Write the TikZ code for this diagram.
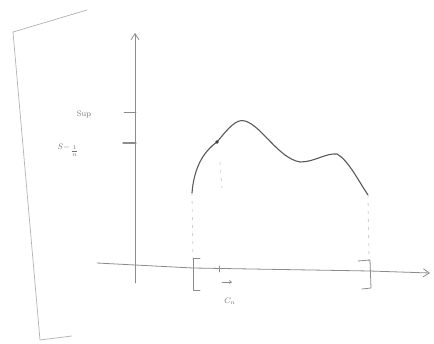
\documentclass[tikz,border=0pt]{standalone}
\usetikzlibrary{arrows.meta}
\begin{document}
\begin{tikzpicture}[x=1pt,y=-1pt,
  pencil/.style={draw=black!45, line width=0.8pt, line cap=round, line join=round},
  faint/.style={draw=black!30, line width=0.7pt, line cap=round},
  curvepen/.style={draw=black!65, line width=1.1pt, line cap=round},
  guide/.style={draw=black!18, line width=0.8pt, dash pattern=on 3pt off 5pt},
  lbl/.style={text=black!55, inner sep=0pt, font=\footnotesize}]
\useasboundingbox (0,0) rectangle (434,343);
% big left bracket
\draw[faint] (87,10) -- (13,32) -- (40,340) -- (72,336);
% axes
\coordinate (yb) at (135,283);
\coordinate (yt) at (135,33);
\coordinate (xl) at (97,263);
\coordinate (xr) at (430,273);
\draw[pencil, -{Straight Barb[length=6pt,width=8pt]}] (yb) -- (yt);
\draw[pencil, -{Straight Barb[length=6pt,width=8pt]}] (xl) -- (135,265) -- (193,268) -- (370,271) -- (xr);
% y ticks
\draw[pencil] (124,112) -- (136,112);
\draw[pencil, line width=1.1pt] (123,143) -- (136,143);
\node[lbl] (sup) at (84,114) {Sup};
\node[lbl, anchor=east] (sm) at (70,147) {$S-$};
\node[lbl, anchor=west] (frac) at (71,151) {$\frac{1}{n}$};
% curve
\coordinate (c0) at (192,193);
\coordinate (c1) at (217,142);
\coordinate (c2) at (245,121);
\coordinate (c3) at (300,162);
\coordinate (c4) at (337,154);
\coordinate (c5) at (368,195);
\draw[curvepen] (c0) .. controls (194,168) and (203,152) .. (c1)
  .. controls (227,130) and (236,118) .. (c2)
  .. controls (262,126) and (278,158) .. (c3)
  .. controls (315,162) and (325,153) .. (c4)
  .. controls (348,160) and (358,180) .. (c5);
\fill[black!75] (c1) circle (1.8pt);
% guides
\draw[guide] (c0) -- (193,262);
\draw[guide] (c5) -- (369,262);
\draw[guide] (220,162) -- (222,188);
% brackets
\draw[pencil] (200,258) -- (193,258) -- (193,290) -- (200,290);
\draw[pencil] (358,261) -- (370,260) -- (371,288) -- (362,289);
% tick and label
\draw[pencil] (219,266) -- (219,272);
\draw[pencil, -{Straight Barb[length=2pt,width=3pt]}] (222,282) -- (232,282);
\node[lbl] (cn) at (230,301) {$C_n$};
\end{tikzpicture}
\end{document}
